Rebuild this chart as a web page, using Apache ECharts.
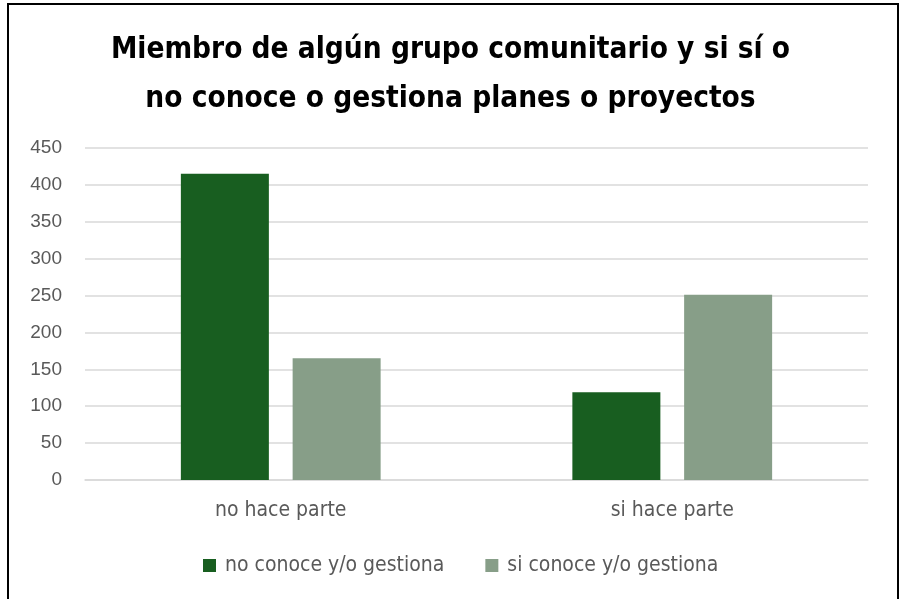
<!DOCTYPE html>
<html>
<head>
<meta charset="utf-8">
<script src="https://cdn.jsdelivr.net/npm/echarts@6/dist/echarts.min.js"></script>
<style>
  html, body { margin: 0; padding: 0; background: #fff; }
  #frame { position: absolute; left: 7px; top: 3px; width: 892px; height: 610px; border: 2px solid #000; box-sizing: border-box; }
  #chart { position: absolute; left: 0; top: 0; width: 901px; height: 599px; }
</style>
</head>
<body>
<div id="frame"></div>
<div id="chart"></div>
<script>
// Datos
const categories = ['no hace parte', 'si hace parte'];
const seriesNames = ['no conoce y/o gestiona', 'si conoce y/o gestiona'];
const noConoce = [415, 119];
const siConoce = [165, 251];
const colors = ['#185E20', '#879E88'];

const narrow = '"Liberation Sans Narrow", "DejaVu Sans Condensed", "Liberation Sans", sans-serif';

const chart = echarts.init(document.getElementById('chart'), null, { renderer: 'canvas' });

chart.setOption({
  backgroundColor: 'transparent',
  animation: false,
  title: {
    text: 'Miembro de algún grupo comunitario y si sí o\nno conoce o gestiona planes o proyectos',
    left: 'center',
    top: 21,
    textStyle: {
      fontFamily: narrow,
      fontWeight: 'bold',
      fontSize: 29.5,
      lineHeight: 49,
      color: '#000'
    }
  },
  grid: { left: 85, right: 33, top: 148, bottom: 119, containLabel: false },
  legend: {
    bottom: 18,
    left: 198,
    padding: 5,
    itemWidth: 13,
    itemHeight: 13,
    itemGap: 41,
    icon: 'rect',
    data: seriesNames,
    textStyle: { fontFamily: narrow, fontSize: 21, color: '#595959', padding: [0, 0, 0, 4] }
  },
  xAxis: {
    type: 'category',
    data: categories,
    axisLine: { lineStyle: { color: '#d9d9d9', width: 1.5 } },
    axisTick: { show: false },
    axisLabel: { fontFamily: narrow, fontSize: 21, color: '#595959', margin: 20 }
  },
  yAxis: {
    type: 'value',
    min: 0,
    max: 450,
    interval: 50,
    axisLine: { show: false },
    axisTick: { show: false },
    axisLabel: { fontFamily: '"Liberation Sans", Arial, sans-serif', fontSize: 19, color: '#595959', margin: 23 },
    splitLine: { lineStyle: { color: '#d9d9d9', width: 1.5 } }
  },
  series: [
    {
      name: seriesNames[0],
      type: 'bar',
      data: noConoce,
      barWidth: 88,
      barGap: '27%',
      itemStyle: { color: colors[0] }
    },
    {
      name: seriesNames[1],
      type: 'bar',
      data: siConoce,
      barWidth: 88,
      itemStyle: { color: colors[1] }
    }
  ]
});
</script>
</body>
</html>
